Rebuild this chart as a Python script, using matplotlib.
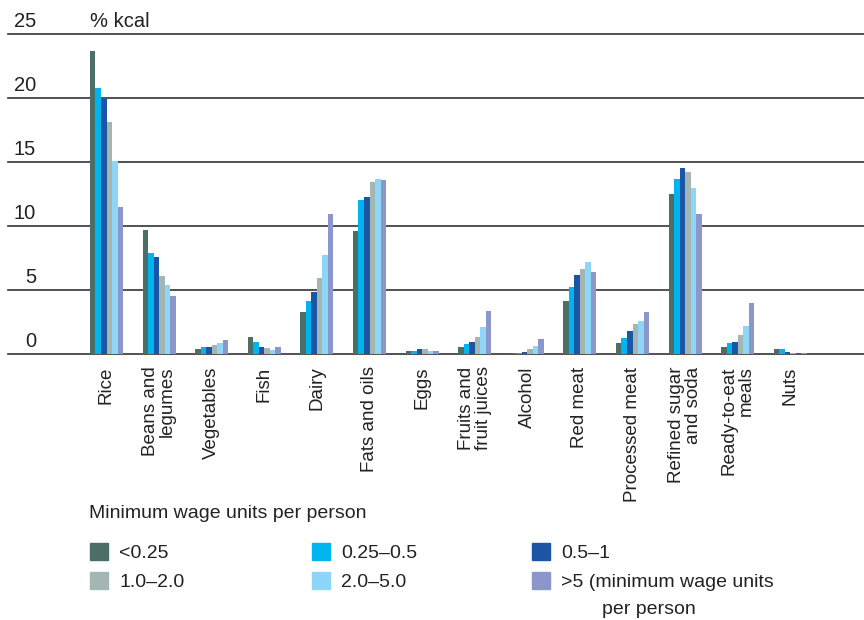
import numpy as np
import matplotlib.pyplot as plt
from matplotlib.patches import Patch

plt.rcParams['font.family'] = ['Liberation Sans', 'DejaVu Sans']

categories = ['Rice', 'Beans and\nlegumes', 'Vegetables', 'Fish', 'Dairy', 'Fats and oils', 'Eggs',
              'Fruits and\nfruit juices', 'Alcohol', 'Red meat', 'Processed meat',
              'Refined sugar\nand soda', 'Ready-to-eat\nmeals', 'Nuts']

series_names = ['<0.25', '0.25\u20130.5', '0.5\u20131', '1.0\u20132.0', '2.0\u20135.0',
                '>5 (minimum wage units']

lt025 = [23.7, 9.7, 0.42, 1.35, 3.3, 9.6, 0.26, 0.57, 0.1, 4.17, 0.89, 12.5, 0.57, 0.42]
r025_05 = [20.8, 7.9, 0.52, 0.96, 4.17, 12.0, 0.26, 0.81, 0.1, 5.26, 1.28, 13.7, 0.89, 0.42]
r05_1 = [20.0, 7.6, 0.57, 0.57, 4.87, 12.3, 0.42, 0.96, 0.18, 6.2, 1.82, 14.5, 0.96, 0.18]
r1_2 = [18.15, 6.1, 0.68, 0.49, 5.96, 13.4, 0.42, 1.35, 0.42, 6.67, 2.37, 14.25, 1.51, 0.1]
r2_5 = [15.1, 5.4, 0.83, 0.34, 7.76, 13.7, 0.26, 2.14, 0.65, 7.21, 2.6, 13.0, 2.21, 0.03]
gt5 = [11.5, 4.5, 1.12, 0.57, 10.9, 13.6, 0.26, 3.39, 1.2, 6.43, 3.3, 10.9, 4.0, 0.1]

series = [lt025, r025_05, r05_1, r1_2, r2_5, gt5]
colors = ['#4b6f67', '#00b5ef', '#1d55a5', '#a3b6b2', '#8ed6f7', '#8b96cb']

yticks = [0, 5, 10, 15, 20, 25]

fig = plt.figure(figsize=(8.64, 6.20), dpi=100)
ax = fig.add_axes([8 / 864, 1 - 354 / 620, 856 / 864, 320 / 620])

x = np.arange(len(categories))
w = 0.105
for i, (vals, c) in enumerate(zip(series, colors)):
    ax.bar(x + (i - 2.5) * w, vals, width=w, color=c, zorder=3, linewidth=0)

ax.set_ylim(0, 25)
ax.set_xlim(-98.5 / 52.6, 757.5 / 52.6)

# grid lines with labels sitting above them
for v in yticks:
    ax.axhline(v, color='#333333', lw=1.2, zorder=1, clip_on=False)
    ax.annotate(str(v), xy=(28 / 856, v), xycoords=('axes fraction', 'data'),
                xytext=(0, 5), textcoords='offset points', ha='right', va='baseline',
                fontsize=14.5, color='#222222')

ax.annotate('% kcal', xy=(-3 * w, 25), xycoords='data', xytext=(0, 5),
            textcoords='offset points', ha='left', va='baseline', fontsize=14.5,
            color='#222222', annotation_clip=False)

for s in ax.spines.values():
    s.set_visible(False)
ax.set_yticks([])
ax.set_xticks(x)
ax.set_xticklabels(categories, rotation=90, fontsize=13.5, color='#222222', linespacing=1.0)
for lbl in ax.get_xticklabels():
    lbl.set_multialignment('right')
ax.tick_params(axis='x', length=0, pad=9)

fig.text(89 / 864, 1 - 513 / 620, 'Minimum wage units per person', fontsize=14,
         color='#222222', ha='left', va='center')

# legend: three columns of two entries
handles = [Patch(color=c, label=n) for c, n in zip(colors, series_names)]
col_x = [90 / 864, 312 / 864, 532 / 864]
for k in range(3):
    leg = fig.legend(handles=[handles[k], handles[k + 3]], loc='upper left',
                     bbox_to_anchor=(col_x[k], 1 - 543 / 620), frameon=False,
                     fontsize=14, handlelength=0.95, handleheight=0.95,
                     handletextpad=0.55, labelspacing=0.5, borderpad=0, borderaxespad=0)
    for t in leg.get_texts():
        t.set_color('#222222')

fig.text(602 / 864, 1 - 610 / 620, 'per person', fontsize=14, color='#222222',
         ha='left', va='center')

fig.savefig('out.png', dpi=100)
